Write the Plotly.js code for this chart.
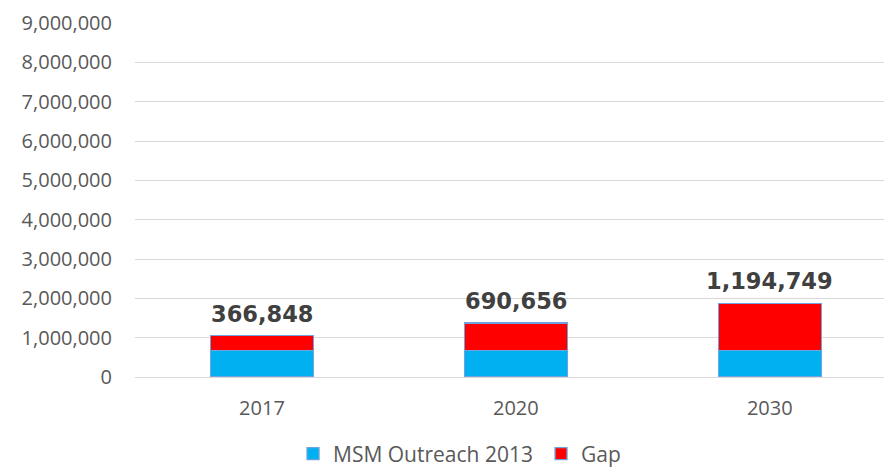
<!DOCTYPE html>
<html>
<head>
<meta charset="utf-8">
<script src="https://cdn.plot.ly/plotly-3.0.1.min.js"></script>
<style>html,body{margin:0;padding:0;background:#fff;overflow:hidden}#chart{width:884px;height:471px}</style>
</head>
<body>
<div id="chart"></div>
<script>
const categories = ['2017', '2020', '2030'];
const outreachValues = [680000, 680000, 680000];
const gapValues = [366848, 690656, 1194749];
const seriesNames = ['MSM Outreach 2013', 'Gap'];
const yTickVals = [0, 1000000, 2000000, 3000000, 4000000, 5000000, 6000000, 7000000, 8000000, 9000000];

const tickFont = {family: 'Open Sans, sans-serif', size: 20, color: '#595959'};
const legendFont = {family: 'Open Sans, sans-serif', size: 21, color: '#595959'};
const barLine = {color: '#6fa3dc', width: 1.3};

const totals = categories.map((c, i) => outreachValues[i] + gapValues[i]);

const traces = [
  {type: 'bar', name: seriesNames[0], x: categories, y: outreachValues,
   marker: {color: '#00b0f0', line: barLine}, width: 0.405, hoverinfo: 'skip'},
  {type: 'bar', name: seriesNames[1], x: categories, y: gapValues,
   marker: {color: '#ff0000', line: barLine}, width: 0.405, hoverinfo: 'skip'}
];

const annotations = categories.map((c, i) => ({
  x: i, y: totals[i], xref: 'x', yref: 'y',
  text: '<b>' + gapValues[i].toLocaleString('en-US') + '</b>',
  showarrow: false, yanchor: 'bottom', yshift: 7,
  font: {family: 'DejaVu Sans, sans-serif', size: 22.5, color: '#404040'}
}));

const layout = {
  width: 884, height: 471,
  margin: {l: 135, r: 0, t: 23, b: 94, pad: 0, autoexpand: false},
  paper_bgcolor: '#ffffff', plot_bgcolor: '#ffffff',
  barmode: 'stack',
  showlegend: true,
  legend: {orientation: 'h', x: 0.211, xanchor: 'left', yref: 'container', y: 0.036, yanchor: 'middle',
           font: legendFont, traceorder: 'normal', entrywidth: 203, entrywidthmode: 'pixels'},
  xaxis: {type: 'category', range: [-0.5, 2.45], showgrid: false, zeroline: false,
          showline: false, ticks: '', tickfont: tickFont, ticklabelstandoff: 17, automargin: false},
  yaxis: {range: [0, 9000000], tickvals: yTickVals, tickformat: ',d',
          showgrid: true, gridcolor: '#d9d9d9', gridwidth: 1, zeroline: true,
          zerolinecolor: '#d9d9d9', zerolinewidth: 1, showline: false, ticks: '',
          tickfont: tickFont, ticklabelstandoff: 22, automargin: false},
  annotations: annotations
};

Plotly.newPlot('chart', traces, layout, {staticPlot: true, displayModeBar: false});
</script>
</body>
</html>
